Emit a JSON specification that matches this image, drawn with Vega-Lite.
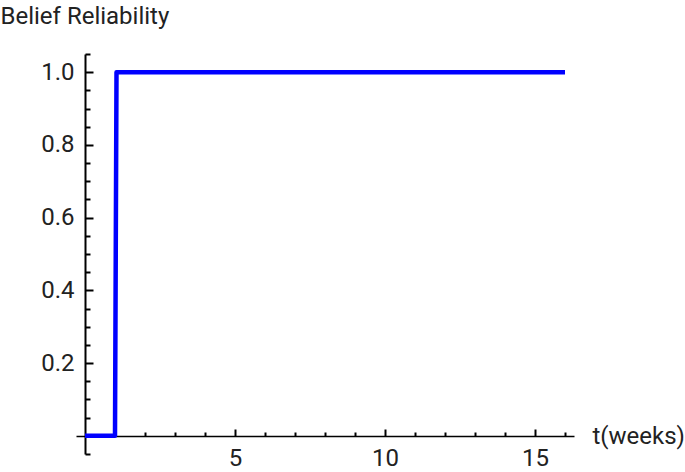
{
  "$schema": "https://vega.github.io/schema/vega-lite/v6.json",
  "autosize": "none",
  "width": 498,
  "height": 400,
  "padding": {"left": 76, "top": 54, "right": 111, "bottom": 18},
  "config": {"view": {"stroke": null}, "font": "Roboto"},
  "data": {"values": [{"t": 0, "r": 0}, {"t": 1, "r": 0}, {"t": 1.05, "r": 1}, {"t": 16, "r": 1}]},
  "layer": [
    {
      "mark": {"type": "line", "color": "#0000ff", "strokeWidth": 4.5, "strokeJoin": "round"},
      "encoding": {
        "x": {
          "field": "t", "type": "quantitative",
          "scale": {"domain": [-0.3, 16.3], "nice": false, "zero": false},
          "axis": {
            "orient": "bottom", "offset": -18, "values": [5, 10, 15], "grid": false,
            "tickSize": -7, "tickWidth": 2, "tickColor": "black",
            "domainColor": "black", "domainWidth": 1.5,
            "labelFontSize": 24, "labelColor": "#222", "labelPadding": 17,
            "title": "t(weeks)", "titleAngle": 0, "titleX": 516, "titleY": 0,
            "titleAlign": "left", "titleBaseline": "middle", "titleFontWeight": "normal",
            "titleFontSize": 24, "titleColor": "#222"
          }
        },
        "y": {
          "field": "r", "type": "quantitative",
          "scale": {"domain": [-0.05, 1.05], "nice": false, "zero": false},
          "axis": {
            "orient": "left", "offset": -9, "values": [0.2, 0.4, 0.6, 0.8, 1.0], "format": ".1f", "grid": false,
            "tickSize": -8, "tickWidth": 2, "tickColor": "black",
            "domainColor": "black", "domainWidth": 2,
            "labelFontSize": 24, "labelColor": "#222", "labelPadding": 19,
            "title": "Belief Reliability", "titleAngle": 0, "titleX": -85, "titleY": -31,
            "titleAlign": "left", "titleBaseline": "alphabetic", "titleFontWeight": "normal",
            "titleFontSize": 24, "titleColor": "#222"
          }
        }
      }
    },
    {
      "mark": {"type": "line", "opacity": 0},
      "encoding": {
        "x": {
          "field": "t", "type": "quantitative",
          "axis": {
            "orient": "bottom", "offset": -18, "values": [1,2,3,4,6,7,8,9,11,12,13,14,16], "grid": false,
            "tickSize": -4, "tickWidth": 2, "tickColor": "black",
            "domain": false, "labels": false, "title": null
          }
        },
        "y": {
          "field": "r", "type": "quantitative",
          "axis": {
            "orient": "left", "offset": -9, "values": [-0.05,0.05,0.1,0.15,0.25,0.3,0.35,0.45,0.5,0.55,0.65,0.7,0.75,0.85,0.9,0.95,1.05], "grid": false,
            "tickSize": -5, "tickWidth": 2, "tickColor": "black",
            "domain": false, "labels": false, "title": null
          }
        }
      }
    }
  ],
  "resolve": {"axis": {"x": "independent", "y": "independent"}}
}
